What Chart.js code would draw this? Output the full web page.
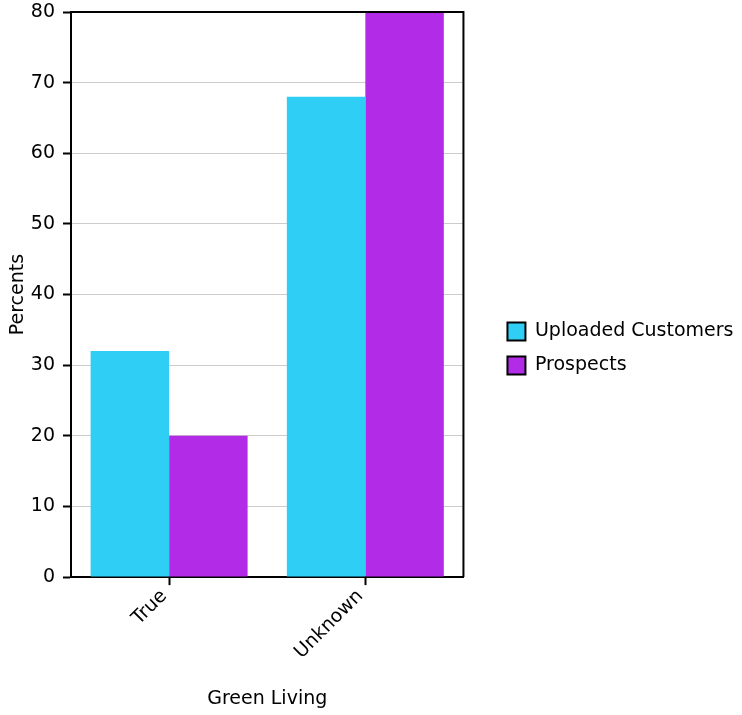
<!DOCTYPE html>
<html>
<head>
<meta charset="utf-8">
<script src="https://cdn.jsdelivr.net/npm/chart.js@4/dist/chart.umd.min.js"></script>
<style>
  html, body { margin: 0; padding: 0; background: #fff; }
  #wrap { width: 742px; height: 715px; }
</style>
</head>
<body>
<div id="wrap"><canvas id="c" width="742" height="715"></canvas></div>
<script>
// Green Living share by audience, in percent
const categories = ['True', 'Unknown'];
const uploadedCustomers = [32, 68];
const prospects = [20, 80];
const yTicks = [0, 10, 20, 30, 40, 50, 60, 70, 80];

const FONT = 'DejaVu Sans';
const SIZE = 19;

// Closes the plot frame on the top and right sides
const frame = {
  id: 'frame',
  afterDatasetsDraw(chart) {
    const { ctx, chartArea: a } = chart;
    ctx.save();
    ctx.strokeStyle = '#000';
    ctx.lineWidth = 2;
    ctx.beginPath();
    ctx.moveTo(a.left, a.top);
    ctx.lineTo(a.right, a.top);
    ctx.lineTo(a.right, a.bottom);
    ctx.stroke();
    ctx.restore();
  }
};

// Leaves a wider gap between the plot and the legend
const legendGap = {
  id: 'legendGap',
  afterLayout(chart) {
    const l = chart.legend;
    if (!l) return;
    const dx = 29, dy = -7;
    l.left += dx; l.right += dx;
    l.top += dy; l.bottom += dy;
  }
};

new Chart(document.getElementById('c'), {
  type: 'bar',
  data: {
    labels: categories,
    datasets: [
      { label: 'Uploaded Customers', data: uploadedCustomers,
        backgroundColor: '#2ECEF5', borderWidth: 0 },
      { label: 'Prospects', data: prospects,
        backgroundColor: '#B22BE6', borderWidth: 0 }
    ]
  },
  options: {
    responsive: false,
    animation: false,
    devicePixelRatio: 1,
    layout: { padding: { top: 0, right: 27.5, bottom: 4, left: 4 } },
    datasets: { bar: { categoryPercentage: 0.8, barPercentage: 1.0 } },
    plugins: {
      tooltip: { enabled: false },
      legend: {
        position: 'right',
        align: 'center',
        maxWidth: 320,
        labels: {
          color: '#000',
          font: { family: FONT, size: SIZE },
          boxWidth: 18,
          boxHeight: 18,
          padding: 15,
          generateLabels(chart) {
            return chart.data.datasets.map((ds, i) => ({
              text: ds.label,
              fillStyle: ds.backgroundColor,
              strokeStyle: '#000',
              lineWidth: 2,
              datasetIndex: i,
              fontColor: '#000'
            }));
          }
        }
      }
    },
    scales: {
      x: {
        grid: { display: true, drawOnChartArea: false, offset: false,
                tickColor: '#000', tickLength: 8, tickWidth: 2 },
        border: { color: '#000', width: 2 },
        ticks: { color: '#000', font: { family: FONT, size: SIZE },
                 minRotation: 45, maxRotation: 45, padding: 0, labelOffset: -5 },
        title: { display: true, text: 'Green Living', color: '#000',
                 font: { family: FONT, size: SIZE }, padding: { top: 24, bottom: 0.6 } }
      },
      y: {
        min: 0, max: 80,
        afterBuildTicks(scale) { scale.ticks = yTicks.map(v => ({ value: v })); },
        afterFit(scale) { scale.width = 67; scale.paddingTop = 12; },
        grid: { color: '#cccccc', lineWidth: 1, tickColor: '#000', tickLength: 8, tickWidth: 2 },
        border: { color: '#000', width: 2 },
        ticks: { color: '#000', font: { family: FONT, size: SIZE }, padding: 8 },
        title: { display: true, text: 'Percents', color: '#000',
                 font: { family: FONT, size: SIZE }, padding: { top: 3, bottom: 1 } }
      }
    }
  },
  plugins: [frame, legendGap]
});
</script>
</body>
</html>
